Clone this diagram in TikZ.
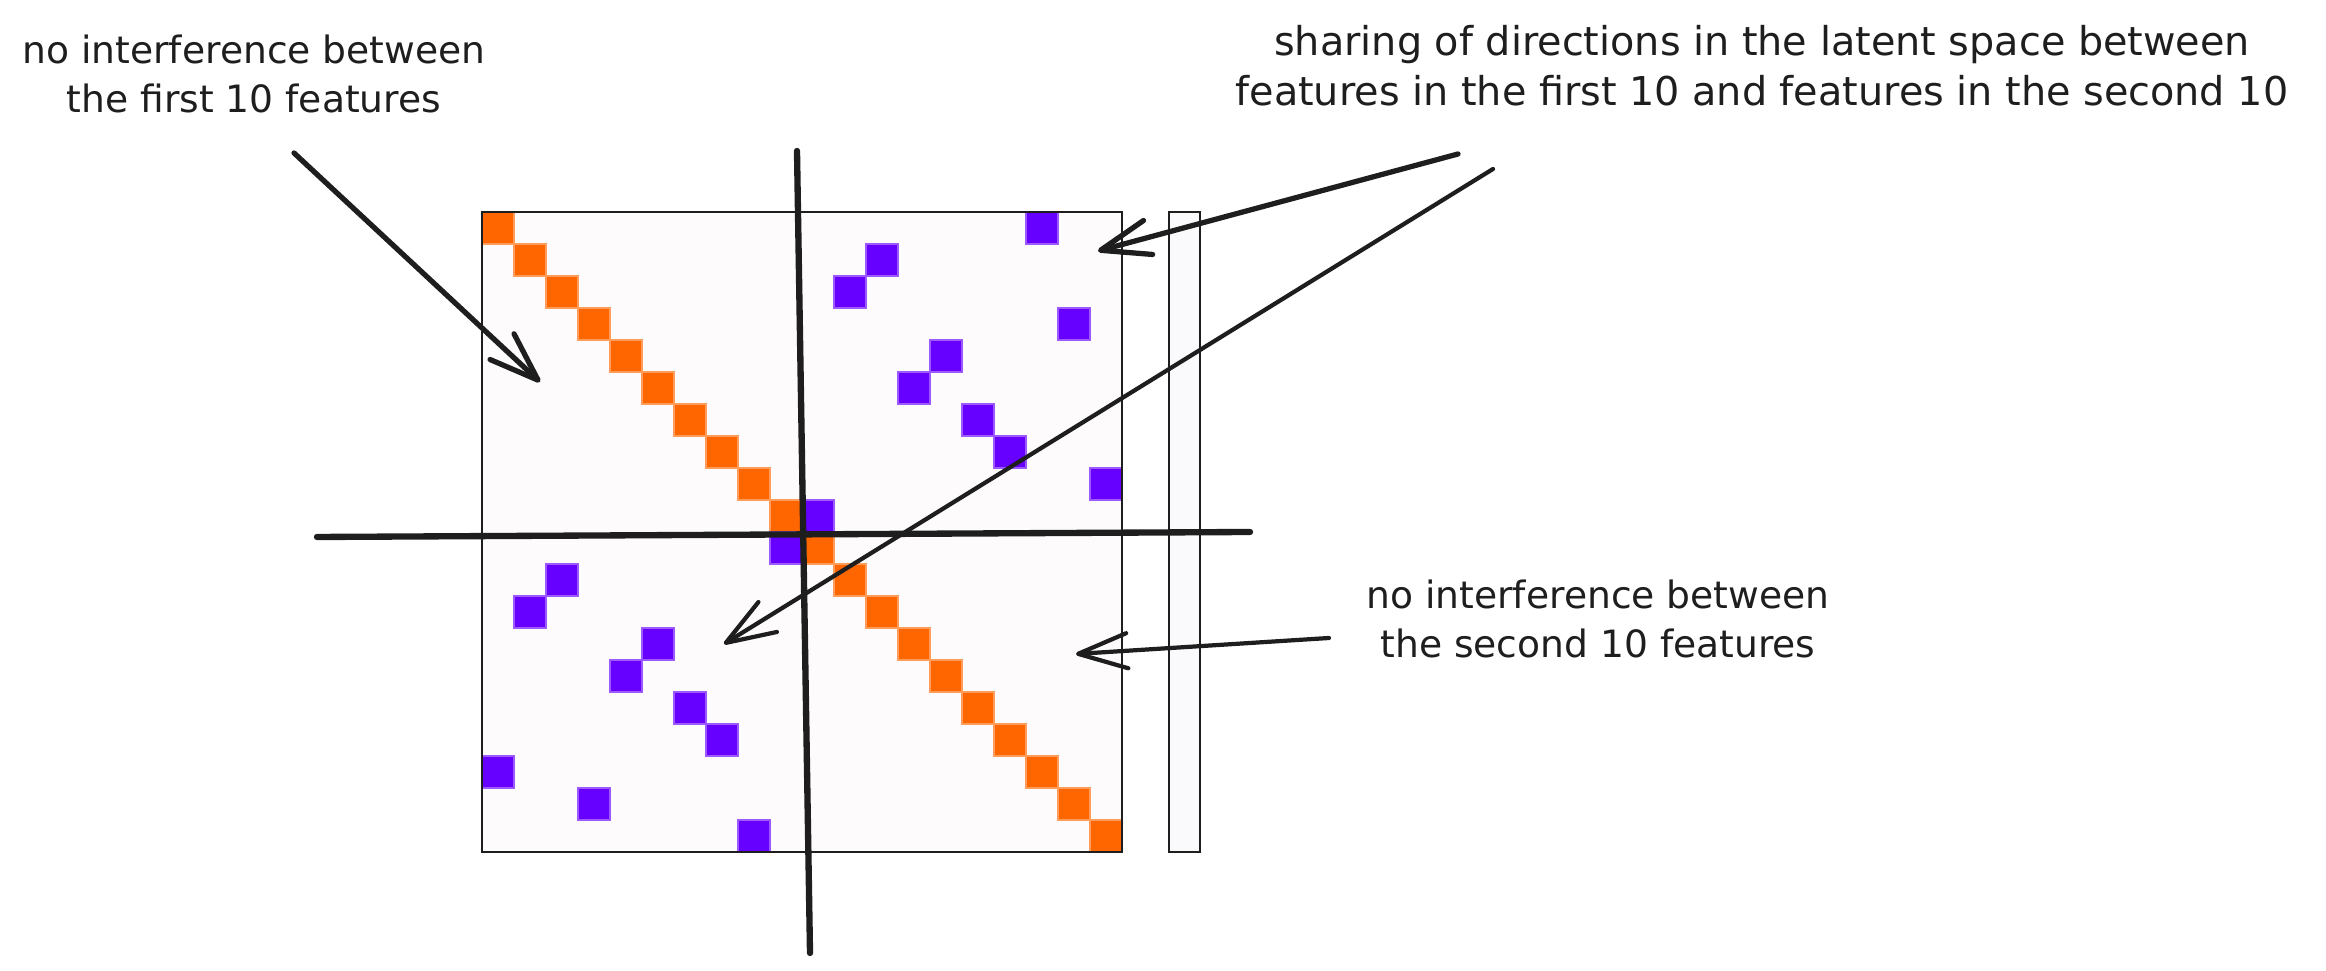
\documentclass[tikz,border=0pt]{standalone}
\usepackage{fontspec}
\newfontfamily\handfont{DejaVu Sans}
\usetikzlibrary{arrows.meta}

\definecolor{ink}{HTML}{1E1E1E}
\definecolor{diagorange}{HTML}{FF6600}
\definecolor{offpurple}{HTML}{6600FF}
\definecolor{gridfill}{HTML}{FDFBFC}
\definecolor{barfill}{HTML}{FAF9FC}

\begin{document}
\begin{tikzpicture}[
        x=0.01cm, y=-0.01cm,
        note/.style={align=center, text=ink, inner sep=0pt, font=\handfont\fontsize{10.7}{14.2}\selectfont},
        pointer/.style={->, draw=ink, line width=1.2pt, line cap=round},
        crossline/.style={draw=ink, line width=1.8pt, line cap=round},
        frame/.style={draw=ink, line width=0.6pt},
        diagcell/.style={fill=diagorange, draw=diagorange!65, line width=0.3pt},
        offcell/.style={fill=offpurple, draw=offpurple!65, line width=0.3pt},
        >={Straight Barb[length=14pt, width=10pt, round]}
    ]
    \useasboundingbox (0,0) rectangle (2326,971);

    % the 20x20 grid
    \fill[gridfill] (482,212) rectangle (1122,852);
    \foreach \k in {0,...,19}
        \path[diagcell] ({482+32*\k},{212+32*\k}) rectangle +(32,32);
    \foreach \r/\c in {0/17,1/12,2/11,3/18,4/14,5/13,6/15,7/16,8/19,9/10}
    {
        \path[offcell] ({482+32*\c},{212+32*\r}) rectangle +(32,32);
        \path[offcell] ({482+32*\r},{212+32*\c}) rectangle +(32,32);
    }
    \draw[frame] (482,212) rectangle (1122,852);
    \draw[frame, fill=barfill] (1169,212) rectangle (1200,852);

    % splitting lines
    \coordinate (westend) at (317,537);
    \coordinate (eastend) at (1250,532);
    \coordinate (northend) at (797,151);
    \coordinate (southend) at (810,953);
    \draw[crossline] (westend) -- (eastend);
    \draw[crossline] (northend) -- (southend);

    % notes
    \node[note] (firstnote) at (254,74) {no interference between\\the first 10 features};
    \node[note, font=\handfont\fontsize{11.3}{14.2}\selectfont] (sharenote) at (1762,66) {sharing of directions in the latent space between\\features in the first 10 and features in the second 10};
    \node[note] (secondnote) at (1598,619) {no interference between\\the second 10 features};

    \coordinate (firsttail) at (294,153);
    \coordinate (firsthead) at (540,382);
    \coordinate (sharetailA) at (1458,154);
    \coordinate (shareheadA) at (1098,251);
    \coordinate (sharetailB) at (1493,169);
    \coordinate (shareheadB) at (724,644);
    \coordinate (secondtail) at (1329,638);
    \coordinate (secondhead) at (1076,654);

    \draw[pointer, line width=1.5pt] (firsttail) -- (firsthead);
    \draw[pointer, line width=1.5pt] (sharetailA) -- (shareheadA);
    \draw[pointer] (sharetailB) -- (shareheadB);
    \draw[pointer] (secondtail) -- (secondhead);

\end{tikzpicture}
\end{document}
